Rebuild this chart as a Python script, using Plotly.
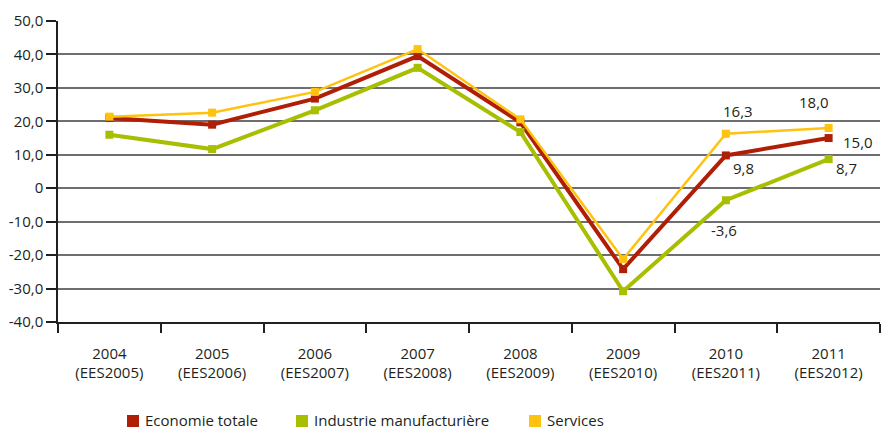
import plotly.graph_objects as go

# Categories (year / survey edition)
years = ["2004", "2005", "2006", "2007", "2008", "2009", "2010", "2011"]
editions = ["EES2005", "EES2006", "EES2007", "EES2008", "EES2009", "EES2010", "EES2011", "EES2012"]
categories = [f"{y}<br>({e})" for y, e in zip(years, editions)]

# Series values
economie_totale = [21.0, 19.0, 26.8, 39.5, 19.7, -24.2, 9.8, 15.0]
industrie_manuf = [16.0, 11.7, 23.3, 36.0, 16.8, -30.8, -3.6, 8.7]
services = [21.4, 22.6, 28.8, 41.6, 20.6, -21.2, 16.3, 18.0]

series_names = ["Economie totale", "Industrie manufacturière", "Services"]

# Y axis ticks
y_ticks = [-40, -30, -20, -10, 0, 10, 20, 30, 40, 50]
y_tick_text = ["-40,0", "-30,0", "-20,0", "-10,0", "0", "10,0", "20,0", "30,0", "40,0", "50,0"]

colors = ["#B01E06", "#A8BE00", "#FFC20E"]
widths = [4, 4, 2.5]
marker_sizes = [8, 8, 8]

FONT = "Open Sans, Noto Sans, sans-serif"
TXT = "#231F20"

W, H = 881, 432
ML, MR, MT, MB = 58, 1, 21, 110
PW, PH = W - ML - MR, H - MT - MB


def px_to_paper(px, py):
    return (px - ML) / PW, (H - MB - py) / PH


fig = go.Figure()
for name, vals, col, w, ms in zip(series_names, [economie_totale, industrie_manuf, services],
                                   colors, widths, marker_sizes):
    fig.add_trace(go.Scatter(
        x=categories, y=vals, mode="lines+markers", name=name,
        line=dict(color=col, width=w),
        marker=dict(symbol="square", size=ms, color=col),
        showlegend=False, cliponaxis=False,
    ))

# Value labels on the last two years (pixel offsets from each marker)
label_offsets = {
    0: {6: (18, -13), 7: (29, -4)},
    1: {6: (-2, -30), 7: (18, -9)},
    2: {6: (12, 23), 7: (-15, 26)},
}
all_series = [economie_totale, industrie_manuf, services]
for si, offs in label_offsets.items():
    for idx, (dx, dy) in offs.items():
        v = all_series[si][idx]
        fig.add_annotation(
            x=categories[idx], y=v, text=f"{v:.1f}".replace(".", ","),
            showarrow=False, xshift=dx, yshift=dy,
            font=dict(family=FONT, size=15, color=TXT),
        )

# Legend row: coloured square followed by the series name
legend_x = [127, 296, 529]
legend_y = 421
for name, col, lx in zip(series_names, colors, legend_x):
    x0, y0 = px_to_paper(lx, legend_y + 6)
    x1, y1 = px_to_paper(lx + 12, legend_y - 6)
    fig.add_shape(type="rect", xref="paper", yref="paper", x0=x0, x1=x1, y0=y0, y1=y1,
                  fillcolor=col, line=dict(width=0))
    tx, ty = px_to_paper(lx + 17, H - 1)
    fig.add_annotation(xref="paper", yref="paper", x=tx, y=ty, xanchor="left", yanchor="bottom",
                       text=name, showarrow=False, borderpad=0,
                       font=dict(family=FONT, size=15, color=TXT))

fig.update_layout(
    width=W, height=H,
    margin=dict(l=ML, r=MR, t=MT, b=MB, autoexpand=False),
    paper_bgcolor="white", plot_bgcolor="white",
    font=dict(family=FONT, size=15, color=TXT),
    showlegend=False,
    xaxis=dict(
        type="category", tickson="boundaries", ticks="outside", ticklen=9,
        tickcolor="#231F20", tickwidth=1.5, ticklabelstandoff=17,
        showline=True, linecolor="#231F20", linewidth=1.5,
        showgrid=False, zeroline=False, range=[-0.5, 7.5],
        tickfont=dict(family=FONT, size=15, color=TXT),
    ),
    yaxis=dict(
        range=[-40, 50], tickvals=y_ticks, ticktext=y_tick_text,
        ticks="outside", ticklen=10, tickcolor="#231F20", tickwidth=1.5,
        showline=True, linecolor="#231F20", linewidth=1.5,
        showgrid=True, gridcolor="#6E6E6E", gridwidth=1.5,
        zeroline=False,
        tickfont=dict(family=FONT, size=15, color=TXT),
    ),
)

fig.write_html("out.html")
